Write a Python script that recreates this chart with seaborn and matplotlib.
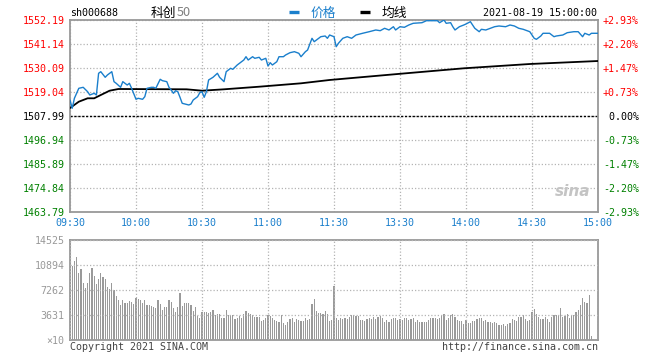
import matplotlib
matplotlib.use("Agg")
import numpy as np
import pandas as pd
import seaborn as sns
import matplotlib.pyplot as plt

# ---------------- data ----------------
time_labels = ['09:30', '10:00', '10:30', '11:00', '11:30', '13:30', '14:00', '14:30', '15:00']
time_ticks = [0, 30, 60, 90, 120, 150, 180, 210, 240]

price_levels = [1463.79, 1474.84, 1485.89, 1496.94, 1507.99, 1519.04, 1530.09, 1541.14, 1552.19]
pct_labels = ['-2.93%', '-2.20%', '-1.47%', '-0.73%', ' 0.00%', '+0.73%', '+1.47%', '+2.20%', '+2.93%']
pre_close = 1507.99

price_minutes = [0, 1, 2, 4, 6, 8, 9, 11, 12, 13,
                 14, 16, 17, 19, 20, 21, 23, 24, 26, 27,
                 28, 30, 31, 33, 34, 35, 37, 38, 39, 41,
                 42, 44, 45, 46, 47, 48, 49, 50, 51, 54,
                 55, 56, 58, 59, 60, 61, 62, 63, 65, 67,
                 68, 70, 71, 73, 74, 76, 77, 79, 80, 81,
                 83, 84, 86, 87, 89, 90, 91, 92, 94, 95,
                 97, 98, 100, 102, 104, 105, 107, 108, 110, 111,
                 113, 114, 116, 117, 118, 120, 121, 122, 124, 126,
                 128, 130, 133, 136, 139, 141, 143, 145, 147, 148,
                 150, 152, 154, 156, 160, 162, 167, 168, 170, 171,
                 173, 174, 175, 177, 179, 180, 182, 183, 184, 186,
                 187, 189, 191, 193, 195, 198, 200, 202, 204, 206,
                 209, 211, 212, 214, 215, 218, 220, 221, 224, 226,
                 229, 231, 233, 234, 236, 237, 240]
prices = [1515.36, 1511.54, 1516.14, 1520.74, 1521.20, 1519.18, 1517.66, 1518.44, 1517.66, 1527.65,
          1528.39, 1525.81, 1526.87, 1528.39, 1523.80, 1523.04, 1521.20, 1523.80, 1522.26, 1523.04,
          1520.74, 1515.68, 1516.14, 1515.68, 1516.88, 1520.74, 1521.20, 1521.20, 1520.74, 1524.89,
          1524.25, 1523.80, 1521.20, 1519.96, 1518.44, 1519.64, 1519.18, 1516.60, 1513.84, 1513.06,
          1513.52, 1515.36, 1516.88, 1518.72, 1519.18, 1516.60, 1519.18, 1524.57, 1525.81, 1527.65,
          1525.81, 1523.80, 1528.39, 1529.95, 1529.49, 1531.47, 1532.25, 1533.77, 1535.29, 1533.77,
          1535.29, 1534.55, 1535.02, 1533.77, 1534.55, 1531.01, 1532.53, 1531.47, 1532.99, 1535.29,
          1535.29, 1536.08, 1537.14, 1537.60, 1536.86, 1535.29, 1537.60, 1538.38, 1543.76, 1542.20,
          1543.76, 1544.50, 1544.82, 1543.76, 1545.28, 1544.50, 1539.90, 1541.46, 1543.76, 1544.50,
          1543.76, 1545.28, 1546.07, 1546.80, 1547.59, 1547.27, 1548.37, 1547.59, 1549.10, 1547.59,
          1549.10, 1548.83, 1549.89, 1550.67, 1550.95, 1551.87, 1551.87, 1550.95, 1552.19, 1550.67,
          1550.95, 1549.10, 1547.59, 1549.10, 1549.89, 1550.35, 1551.41, 1549.89, 1548.37, 1546.80,
          1547.91, 1547.59, 1548.37, 1549.10, 1549.43, 1549.10, 1549.89, 1549.43, 1548.37, 1547.91,
          1546.80, 1543.76, 1543.30, 1544.82, 1546.07, 1546.07, 1544.50, 1544.82, 1545.28, 1546.34,
          1546.80, 1546.80, 1544.50, 1546.07, 1545.28, 1546.07, 1546.07]

avg_minutes = [0, 4, 8, 11, 14, 18, 22, 53, 60, 70, 86, 105, 118, 149, 179, 209, 240]
avg_prices = [1511.67, 1514.57, 1516.14, 1516.14, 1517.66, 1519.64, 1520.42, 1520.28, 1519.64,
              1520.28, 1521.48, 1523.04, 1524.57, 1527.33, 1529.95, 1531.93, 1533.31]

vol_levels = [0, 3631, 7262, 10894, 14525]
vol_labels = ['×10', '3631', '7262', '10894', '14525']
volumes = [14525,
           10701, 11524, 12057, 9732, 10313, 8280, 7554, 8280, 9732, 10459,
           9248, 8135, 8861, 9732, 9151, 8861, 7699, 7408, 8280, 7215,
           6343, 5810, 5084, 5810, 5375, 5375, 5665, 5520, 5229, 6101,
           5956, 5810, 5375, 5810, 5084, 5084, 4939, 4794, 4648, 5810,
           5229, 4358, 4794, 4794, 5810, 5520, 4648, 4067, 4794, 6827,
           4939, 5375, 5375, 5375, 5084, 4213, 4794, 3486, 3196, 4067,
           4067, 4067, 3922, 4067, 4358, 3632, 3777, 3777, 3196, 3196,
           4358, 3632, 3632, 3632, 3050, 3196, 3486, 3196, 3777, 4213,
           3922, 3777, 3632, 3341, 3341, 3341, 2760, 2905, 3196, 3632,
           3486, 3196, 2905, 2760, 2615, 3632, 2469, 2179, 2615, 3050,
           3196, 2615, 3050, 2905, 2760, 2760, 3196, 2905, 3050, 5229,
           5956, 4213, 3922, 3922, 3777, 4213, 3777, 2760, 2905, 7844,
           3196, 2905, 3196, 3050, 3196, 3050, 3341, 3632, 3632, 3486,
           3486, 2905, 2905, 2760, 3050, 3196, 3050, 3341, 3050, 3341,
           3486, 3196, 2615, 2905, 2615, 3050, 3196, 3196, 2905, 3050,
           2905, 3196, 3196, 2905, 3050, 3196, 2615, 2905, 2615, 2615,
           2615, 2615, 2905, 3196, 3196, 3196, 3050, 3196, 3632, 3777,
           2905, 3196, 3632, 3777, 3341, 2905, 2760, 2760, 2324, 2905,
           2469, 2469, 2760, 2760, 3050, 3196, 3196, 2760, 2905, 2615,
           2615, 2469, 2615, 2469, 2179, 2179, 2324, 2034, 2324, 2469,
           3050, 2905, 2760, 3341, 3341, 3632, 3050, 2760, 2905, 4067,
           4503, 3777, 3341, 3050, 3050, 3341, 3050, 2615, 3341, 3632,
           3632, 3632, 4648, 3341, 3486, 3777, 3196, 3486, 3632, 4067,
           4358, 5084, 6101, 5520, 5375, 6537, 581,
           0, 0, 0]
vol_minutes = list(range(len(volumes)))

# ---------------- style ----------------
BLUE = '#1a7fcc'
RED = '#ff0000'
GREEN = '#008000'
GRIDC = '#b4b4b4'
SPINEC = '#999999'
MONO = 'DejaVu Sans Mono'
FS = 7.2

sns.set_theme(style='white')
plt.rcParams['font.family'] = [MONO, 'Noto Sans CJK SC']

W, H = 660, 360
fig = plt.figure(figsize=(6.6, 3.6), dpi=100)
ax = fig.add_axes([70 / W, 1 - 212 / H, 528 / W, 192 / H])
axv = fig.add_axes([70 / W, 1 - 340 / H, 528 / W, 100 / H])

# ---------------- price panel ----------------
sns.lineplot(x=price_minutes, y=prices, ax=ax, color=BLUE, lw=1.0, label='价格', zorder=4)
sns.lineplot(x=avg_minutes, y=avg_prices, ax=ax, color='black', lw=1.3, label='均线', zorder=3)
handles, labels = ax.get_legend_handles_labels()
ax.get_legend().remove()

ax.set_xlim(0, 240)
ax.set_ylim(price_levels[0], price_levels[-1])
ax.set_xticks(time_ticks)
ax.set_xticklabels(time_labels)
ax.set_yticks(price_levels)
ax.set_yticklabels(['%.2f' % v for v in price_levels])
ax.set_xlabel('')
ax.set_ylabel('')
ax.tick_params(axis='both', length=0, labelsize=FS, pad=4)
for t in ax.get_xticklabels():
    t.set_color(BLUE)
for t, v in zip(ax.get_yticklabels(), price_levels):
    t.set_color(RED if v > pre_close else (GREEN if v < pre_close else 'black'))
ax.grid(True, ls=(0, (1, 1.6)), color=GRIDC, lw=0.9)
ax.axhline(pre_close, color='black', lw=1.0, ls=(0, (1.6, 1.2)), zorder=2)
for s in ax.spines.values():
    s.set_color(SPINEC)
    s.set_linewidth(1.3)

ax2 = ax.twinx()
ax2.set_ylim(price_levels[0], price_levels[-1])
ax2.set_yticks(price_levels)
ax2.set_yticklabels(pct_labels)
ax2.tick_params(axis='y', length=0, labelsize=FS, pad=3.5)
ax2.grid(False)
for s in ax2.spines.values():
    s.set_visible(False)
for t, v in zip(ax2.get_yticklabels(), price_levels):
    t.set_color(RED if v > pre_close else (GREEN if v < pre_close else 'black'))

ax.text(0.985, 0.07, 'sina', transform=ax.transAxes, ha='right', va='bottom',
        color='#c4c4c4', fontsize=11, style='italic', weight='bold', family='DejaVu Sans')

# ---------------- volume panel ----------------
sns.barplot(x=vol_minutes, y=volumes, ax=axv, native_scale=True, color='#9a9a9a',
            width=0.5, saturation=1, linewidth=0)
for p in axv.patches:
    p.set_antialiased(False)
axv.set_xlim(0, 240)
axv.set_ylim(0, vol_levels[-1])
axv.set_xticks(time_ticks)
axv.set_xticklabels([])
axv.set_yticks(vol_levels)
axv.set_yticklabels(vol_labels)
axv.set_xlabel('')
axv.set_ylabel('')
axv.tick_params(axis='both', length=0, labelsize=FS, pad=4, labelcolor='#999999')
axv.set_axisbelow(False)
axv.grid(True, ls=(0, (1, 1.6)), color=GRIDC, lw=0.9)
for s in axv.spines.values():
    s.set_color(SPINEC)
    s.set_linewidth(1.3)

# ---------------- header / footer ----------------
ty = 1 - 13 / H
fig.text(70 / W, ty, 'sh000688', ha='left', va='center', fontsize=FS, color='black', family=MONO)
fig.text(151 / W, ty, '科创', ha='left', va='center', fontsize=9.2, color='black',
         family='Noto Sans CJK SC')
fig.text(177 / W, ty, '50', ha='left', va='center', fontsize=9.2, color='#808080',
         family='Noto Sans CJK SC')
leg = fig.legend(handles, labels, loc='center', bbox_to_anchor=(348 / W, ty), ncol=2,
                 frameon=False, handlelength=0.8, handletextpad=0.9, columnspacing=1.9,
                 prop={'family': 'Noto Sans CJK SC', 'size': 9.2}, borderpad=0)
for h in leg.legend_handles:
    h.set_linewidth(2.4)
    h.set_solid_capstyle('butt')
leg.get_texts()[0].set_color(BLUE)
leg.get_texts()[1].set_color('black')
fig.text(597 / W, ty, '2021-08-19 15:00:00', ha='right', va='center', fontsize=FS,
         color='black', family=MONO)

fy = 1 - 347 / H
fig.text(70 / W, fy, 'Copyright 2021 SINA.COM', ha='left', va='center', fontsize=FS,
         color='#444444', family=MONO)
fig.text(598 / W, fy, 'http://finance.sina.com.cn', ha='right', va='center', fontsize=FS,
         color='#444444', family=MONO)

fig.savefig('out.png', dpi=100)
